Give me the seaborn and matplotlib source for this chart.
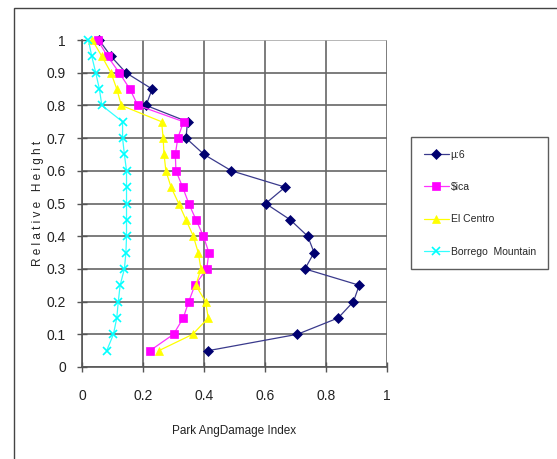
import matplotlib
matplotlib.use("Agg")
import matplotlib.pyplot as plt
from matplotlib.patches import Rectangle
import seaborn as sns
import pandas as pd

heights = [1.0, 0.95, 0.90, 0.85, 0.80, 0.75, 0.70, 0.65, 0.60, 0.55,
           0.50, 0.45, 0.40, 0.35, 0.30, 0.25, 0.20, 0.15, 0.10, 0.05]

series_names = ["µ:6", "$ica", "El Centro", "Borrego  Mountain"]

s1 = [0.056, 0.095, 0.144, 0.230, 0.210, 0.346, 0.341, 0.400, 0.490, 0.666,
      0.602, 0.683, 0.740, 0.761, 0.731, 0.909, 0.890, 0.840, 0.706, 0.414]
s2 = [0.051, 0.084, 0.122, 0.157, 0.183, 0.333, 0.314, 0.306, 0.308, 0.330,
      0.350, 0.374, 0.398, 0.416, 0.409, 0.370, 0.350, 0.332, 0.300, 0.223]
s3 = [0.034, 0.065, 0.095, 0.114, 0.129, 0.261, 0.266, 0.269, 0.275, 0.292,
      0.317, 0.341, 0.365, 0.381, 0.390, 0.373, 0.405, 0.414, 0.363, 0.252]
s4 = [0.021, 0.032, 0.045, 0.057, 0.065, 0.133, 0.133, 0.139, 0.146, 0.146,
      0.146, 0.146, 0.146, 0.144, 0.139, 0.125, 0.119, 0.114, 0.103, 0.081]

x_ticks = [0, 0.2, 0.4, 0.6, 0.8, 1]
x_tick_labels = ["0", "0.2", "0.4", "0.6", "0.8", "1"]
y_ticks = [0, 0.1, 0.2, 0.3, 0.4, 0.5, 0.6, 0.7, 0.8, 0.9, 1]
y_tick_labels = ["0", "0.1", "0.2", "0.3", "0.4", "0.5", "0.6", "0.7", "0.8", "0.9", "1"]

line_colors = ["#3a3a8c", "#ff33ff", "#ffff00", "#33ffff"]
marker_colors = ["#000070", "#ff00ff", "#ffff00", "#00ffff"]
markers = ["D", "s", "^", "x"]
msizes = [5, 5.5, 6, 6]

sns.set_theme(style="white")
plt.rcParams["font.family"] = ["Liberation Sans", "DejaVu Sans"]

fig = plt.figure(figsize=(5.57, 4.59), dpi=100)
ax = fig.add_axes([82/557, 1-367/459, 305/557, 327/459])

for name, vals, lc, mc, mk, ms in zip(series_names, [s1, s2, s3, s4],
                                      line_colors, marker_colors, markers, msizes):
    df = pd.DataFrame({"x": vals, "y": heights})
    sns.lineplot(data=df, x="x", y="y", sort=False, estimator=None, ax=ax,
                 color=lc, lw=0.9, marker=mk, markersize=ms,
                 markerfacecolor=mc, markeredgecolor=mc,
                 markeredgewidth=1.2 if mk == "x" else 0.5,
                 label=name, clip_on=False, zorder=3)

ax.set_xlim(0, 1)
ax.set_ylim(0, 1)
ax.set_xticks(x_ticks)
ax.set_xticklabels(x_tick_labels, fontsize=10)
ax.set_yticks(y_ticks)
ax.set_yticklabels(y_tick_labels, fontsize=10)
ax.grid(True, color="#666666", lw=1.2)
ax.set_axisbelow(True)
for sp in ["top", "right"]:
    ax.spines[sp].set_visible(False)
for sp in ["left", "bottom"]:
    ax.spines[sp].set_color("#555555")
    ax.spines[sp].set_linewidth(1.2)
ax.tick_params(axis="both", which="major", direction="inout", length=7,
               width=1, color="#555555", colors="#222222",
               left=True, bottom=True)
ax.tick_params(axis="x", pad=12)
ax.tick_params(axis="y", pad=8)
ax.get_ygridlines()[-1].set_color("#aaaaaa")

ax.set_xlabel("Park AngDamage Index", fontsize=8.5, color="#222222", labelpad=16)
ax.set_ylabel("R e l a t i v e   H e i g h t", fontsize=8.5, color="#222222", labelpad=2)

leg = ax.legend(loc="upper left", bbox_to_anchor=(411/557, 1-137/459),
                bbox_transform=fig.transFigure, frameon=True, fancybox=False,
                edgecolor="#333333", fontsize=7.5, handlelength=2.4,
                labelspacing=2.15, borderpad=1.2, handletextpad=0.2,
                borderaxespad=0)
leg.get_frame().set_linewidth(1.0)

fig.add_artist(Rectangle((14/557, -0.1), 2, (459-8)/459 + 0.1,
                         transform=fig.transFigure, fill=False,
                         edgecolor="#444444", lw=1.0))

fig.savefig("out.png", dpi=100, facecolor="white")
